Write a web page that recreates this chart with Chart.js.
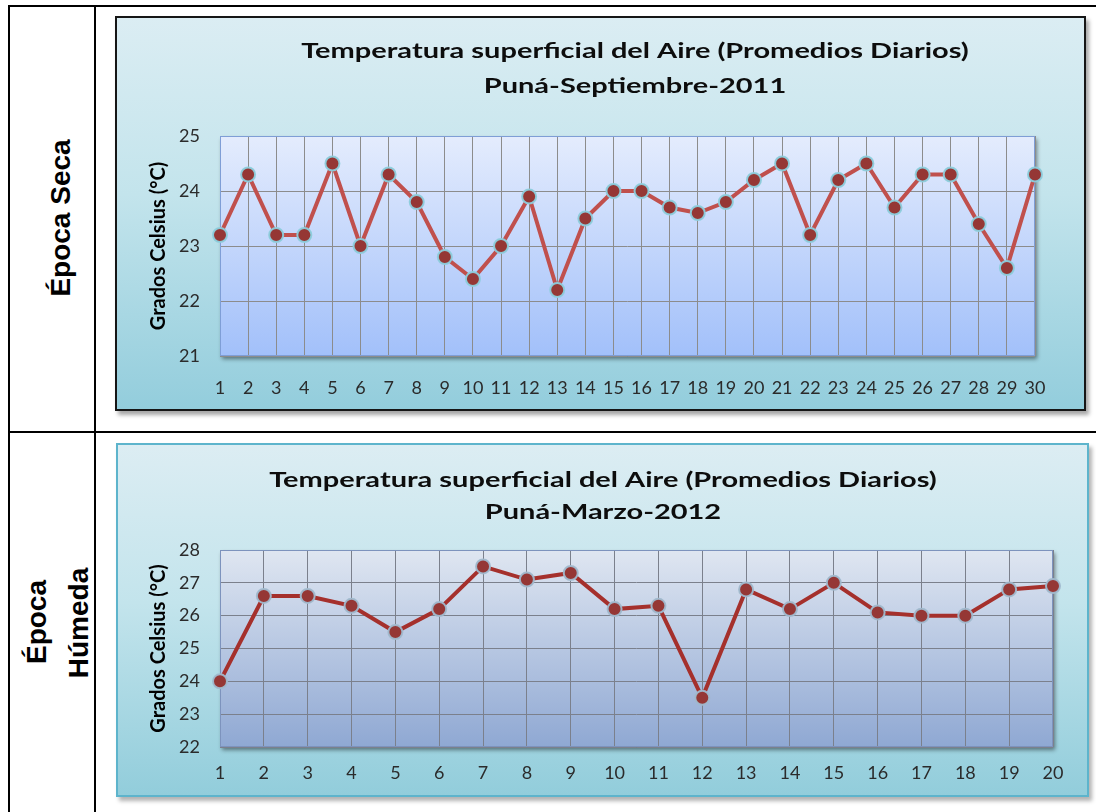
<!DOCTYPE html>
<html>
<head>
<meta charset="utf-8">
<script src="https://cdn.jsdelivr.net/npm/chart.js@4.4.1/dist/chart.umd.min.js"></script>
<style>
  html, body { margin: 0; padding: 0; background: #fff; }
  body { width: 1096px; height: 812px; overflow: hidden; position: relative; }
  .rule { position: absolute; background: #000; }
  .panel { position: absolute; box-sizing: border-box; }
  #panelSept {
    left: 115px; top: 16px; width: 971px; height: 395px;
    border: 2px solid #161616;
    background: linear-gradient(to bottom, #dbedf3 0%, #c3e4ec 45%, #93cddc 100%);
    box-shadow: 3px 4px 4px rgba(0,0,0,0.35);
  }
  #panelMar {
    left: 116px; top: 443px; width: 973px; height: 354px;
    border: 2px solid #5db4cc;
    background: linear-gradient(to bottom, #dcedf3 0%, #c3e4ec 45%, #92cddb 100%);
    box-shadow: 3px 4px 4px rgba(0,0,0,0.3);
  }
  .side {
    position: absolute; white-space: nowrap; color: #000;
    font: bold 28px "Liberation Sans", Arial, sans-serif; line-height: 28px;
    transform: translate(-50%, -50%) rotate(-90deg);
  }
  canvas { position: absolute; }
</style>
</head>
<body>
  <!-- table frame -->
  <div class="rule" style="left:8px; top:5px; width:1100px; height:2px"></div>
  <div class="rule" style="left:8px; top:5px; width:2px; height:820px"></div>
  <div class="rule" style="left:94px; top:5px; width:2px; height:820px"></div>
  <div class="rule" style="left:8px; top:431px; width:1100px; height:2px"></div>

  <div class="side" style="left:61px; top:218px">Época Seca</div>
  <div class="side" style="left:37px; top:622px">Época</div>
  <div class="side" style="left:79px; top:623px">Húmeda</div>

  <div class="panel" id="panelSept"></div>
  <div class="panel" id="panelMar"></div>
  <canvas id="chartSept" width="970" height="394" style="left:116px; top:17px"></canvas>
  <canvas id="chartMar" width="973" height="354" style="left:116px; top:443px"></canvas>

<script>
// Puná, September 2011 — daily mean air temperature (°C)
const septDays = ['1','2','3','4','5','6','7','8','9','10','11','12','13','14','15',
                  '16','17','18','19','20','21','22','23','24','25','26','27','28','29','30'];
const septTemps = [23.2, 24.3, 23.2, 23.2, 24.5, 23.0, 24.3, 23.8, 22.8, 22.4,
                   23.0, 23.9, 22.2, 23.5, 24.0, 24.0, 23.7, 23.6, 23.8, 24.2,
                   24.5, 23.2, 24.2, 24.5, 23.7, 24.3, 24.3, 23.4, 22.6, 24.3];
const septTicks = [21, 22, 23, 24, 25];
const septTitle = ['Temperatura superficial del Aire (Promedios Diarios)', 'Puná-Septiembre-2011'];

// Puná, March 2012 — daily mean air temperature (°C)
const marDays = ['1','2','3','4','5','6','7','8','9','10',
                 '11','12','13','14','15','16','17','18','19','20'];
const marTemps = [24.0, 26.6, 26.6, 26.3, 25.5, 26.2, 27.5, 27.1, 27.3, 26.2,
                  26.3, 23.5, 26.8, 26.2, 27.0, 26.1, 26.0, 26.0, 26.8, 26.9];
const marTicks = [22, 23, 24, 25, 26, 27, 28];
const marTitle = ['Temperatura superficial del Aire (Promedios Diarios)', 'Puná-Marzo-2012'];

const yAxisTitle = 'Grados Celsius (°C)';

// gradient plot panel with a soft drop shadow, outlined after the grid
const plotPanel = {
  id: 'plotPanel',
  beforeDraw(chart, args, o) {
    const { ctx, chartArea: a } = chart;
    ctx.save();
    ctx.shadowColor = 'rgba(0,0,0,0.45)';
    ctx.shadowBlur = 4;
    ctx.shadowOffsetX = 2;
    ctx.shadowOffsetY = 3;
    const g = ctx.createLinearGradient(0, a.top, 0, a.bottom);
    g.addColorStop(0, o.top);
    g.addColorStop(1, o.bottom);
    ctx.fillStyle = g;
    ctx.fillRect(a.left, a.top, a.width, a.height);
    ctx.restore();
  },
  beforeDatasetsDraw(chart, args, o) {
    const { ctx, chartArea: a } = chart;
    ctx.save();
    ctx.strokeStyle = o.border;
    ctx.lineWidth = 1;
    ctx.strokeRect(a.left + 0.5, a.top + 0.5, a.width - 1, a.height - 1);
    ctx.restore();
  }
};

// two-line bold heading, slightly widened
const headingLines = {
  id: 'headingLines',
  afterDraw(chart, args, o) {
    const ctx = chart.ctx;
    ctx.save();
    ctx.fillStyle = '#0d0d0d';
    ctx.font = o.font;
    ctx.textAlign = 'center';
    ctx.textBaseline = 'alphabetic';
    o.lines.forEach((t, i) => {
      ctx.save();
      ctx.translate(o.x, o.y[i]);
      ctx.scale(o.stretch, 1);
      ctx.fillText(t, 0, 0);
      ctx.restore();
    });
    ctx.restore();
  }
};

function makeChart(id, s) {
  return new Chart(document.getElementById(id), {
    type: 'line',
    data: {
      labels: s.labels,
      datasets: [{
        data: s.values,
        borderColor: s.lineColor,
        borderWidth: 4,
        tension: 0,
        pointRadius: 7,
        pointHoverRadius: 7,
        pointBackgroundColor: '#953735',
        pointBorderColor: s.glow,
        pointBorderWidth: 2,
        clip: false
      }]
    },
    options: {
      responsive: false,
      animation: false,
      devicePixelRatio: 1,
      events: [],
      layout: { padding: s.padding },
      plugins: {
        legend: { display: false },
        tooltip: { enabled: false },
        title: { display: false },
        plotPanel: { top: s.panelTop, bottom: s.panelBottom, border: s.panelBorder },
        headingLines: { lines: s.title, font: 'bold 21px Lato', x: s.titleX, y: s.titleY, stretch: 1.38 }
      },
      scales: {
        x: {
          type: 'category',
          offset: false,
          border: { display: false },
          grid: { color: s.gridColor, lineWidth: 1, drawTicks: false },
          ticks: {
            autoSkip: false, maxRotation: 0, padding: s.xPad,
            color: '#2b2b2b', font: { family: 'Lato', size: 18 }
          },
          afterFit(scale) { scale.height = 45; }
        },
        y: {
          min: s.ticks[0],
          max: s.ticks[s.ticks.length - 1],
          border: { display: false },
          grid: { color: s.gridColor, lineWidth: 1, drawTicks: false },
          ticks: {
            stepSize: 1, padding: 20,
            color: '#2b2b2b', font: { family: 'Lato', size: 18 }
          },
          title: {
            display: true, text: yAxisTitle, color: '#000', padding: 0,
            font: { family: 'Lato', size: 20, weight: 'bold' }
          },
          afterFit(scale) { scale.width = 73; }
        }
      }
    },
    plugins: [plotPanel, headingLines]
  });
}

makeChart('chartSept', {
  labels: septDays, values: septTemps, ticks: septTicks, title: septTitle,
  lineColor: '#c0504d', glow: 'rgba(140,205,220,0.95)',
  panelTop: '#e4ecfd', panelBottom: '#a2c0fa', panelBorder: '#7f9ed6',
  gridColor: '#8c8c8c',
  padding: { left: 31, right: 51, top: 119, bottom: 10 },
  xPad: 21, titleX: 519, titleY: [41, 76]
});

makeChart('chartMar', {
  labels: marDays, values: marTemps, ticks: marTicks, title: marTitle,
  lineColor: '#a5302c', glow: 'rgba(160,185,205,0.95)',
  panelTop: '#dfe6f1', panelBottom: '#8fa8d3', panelBorder: '#7d93bd',
  gridColor: '#7b808c',
  padding: { left: 31, right: 36, top: 107, bottom: 5 },
  xPad: 15, titleX: 487, titleY: [44, 76]
});
</script>
</body>
</html>
